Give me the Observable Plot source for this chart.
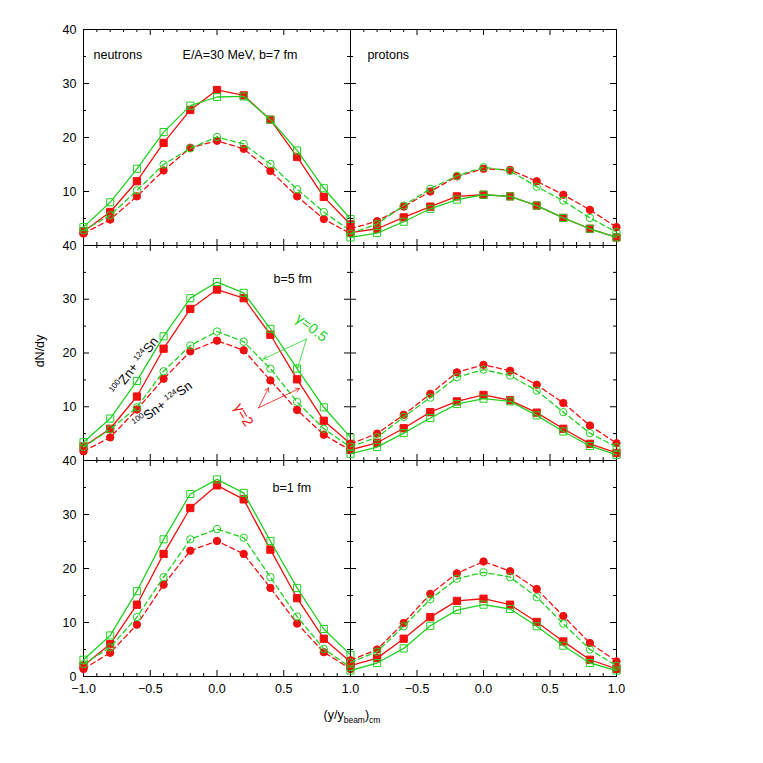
<!DOCTYPE html>
<html><head><meta charset="utf-8">
<script src="https://cdn.jsdelivr.net/npm/d3@7"></script>
<script src="https://cdn.jsdelivr.net/npm/@observablehq/plot@0.6"></script>
<style>
body{margin:0;background:#fff;font-family:"Liberation Sans",Arial,sans-serif;}
#fig{position:relative;width:763px;height:763px;background:#fff;}
.panel{position:absolute;}
.panel svg{overflow:visible;background:transparent;}
.lab{position:absolute;font-size:12.5px;color:#000;white-space:nowrap;}
.lab sub{font-size:8.5px;}
</style></head><body><div id="fig"></div>
<script>
// rapidity bins (y/y_beam)_cm
const xPos = [-1.0,-0.8,-0.6,-0.4,-0.2,0.0,0.2,0.4,0.6,0.8,1.0];
// tick values
const yMajor = [10,20,30];
const yMinor = [5,15,25,35];
const xMajor = [-0.5,0,0.5];
const xMinor = [-0.9,-0.8,-0.7,-0.6,-0.4,-0.3,-0.2,-0.1,0.1,0.2,0.3,0.4,0.6,0.7,0.8,0.9];
const yLabelsTop = [10,20,30,40];
const yLabelsBottom = [0,10,20,30,40];
const xLabelsLeft = [-1,-0.5,0,0.5,1];
const xLabelsRight = [-0.5,0,0.5,1];

// neutrons, b=7 fm
const n7_Zn_g05 = [3.4,8.0,14.2,21.0,25.9,27.5,27.6,23.3,17.6,10.6,4.9];
const n7_Zn_g2  = [2.6,6.2,11.9,19.0,25.1,28.8,27.8,23.3,16.4,9.0,3.9];
const n7_Sn_g05 = [2.8,5.6,10.2,15.0,18.0,20.1,18.8,15.1,10.4,6.2,2.7];
const n7_Sn_g2  = [2.2,4.8,9.1,13.9,18.1,19.4,17.9,13.8,9.1,4.9,2.2];
// protons, b=7 fm
const p7_Zn_g05 = [1.5,2.3,4.4,6.8,8.5,9.4,9.1,7.4,5.1,3.1,1.5];
const p7_Zn_g2  = [2.4,3.1,5.2,7.2,9.1,9.4,9.1,7.4,5.1,3.1,1.5];
const p7_Sn_g05 = [2.2,4.0,7.4,10.5,12.9,14.5,13.8,10.9,8.3,5.1,2.5];
const p7_Sn_g2  = [3.1,4.5,7.2,10.0,12.8,14.2,14.0,11.9,9.4,6.6,3.4];
// neutrons, b=5 fm
const n5_Zn_g05 = [3.4,7.8,14.8,23.1,30.2,33.2,31.2,24.5,17.1,9.9,4.3];
const n5_Zn_g2  = [2.6,5.9,11.9,20.8,28.2,31.8,30.2,23.4,15.1,7.4,3.1];
const n5_Sn_g05 = [2.5,5.8,9.9,16.6,21.4,24.0,22.1,17.1,10.9,5.9,2.5];
const n5_Sn_g2  = [1.7,4.3,9.5,15.2,20.3,22.3,20.5,14.9,9.4,4.8,1.9];
// protons, b=5 fm
const p5_Zn_g05 = [1.25,2.5,5.1,7.9,10.5,11.5,11.0,8.4,5.4,2.7,1.05];
const p5_Zn_g2  = [2.0,3.3,6.0,9.0,11.0,12.2,11.2,8.9,5.9,3.1,1.4];
const p5_Sn_g05 = [2.6,4.3,8.1,11.7,15.5,16.9,15.8,13.0,9.0,5.1,2.5];
const p5_Sn_g2  = [3.1,5.0,8.5,12.4,16.4,17.8,16.7,14.1,10.7,6.5,3.2];
// neutrons, b=1 fm
const n1_Zn_g05 = [3.1,7.6,15.8,25.4,33.8,36.5,34.0,25.1,16.4,8.8,4.0];
const n1_Zn_g2  = [2.0,6.0,13.3,22.7,31.2,35.4,32.8,23.5,14.5,7.0,2.7];
const n1_Sn_g05 = [2.3,5.4,11.0,18.4,25.4,27.3,25.7,18.4,11.1,5.1,1.7];
const n1_Sn_g2  = [1.4,4.4,9.6,17.0,23.3,25.1,22.7,16.4,9.8,4.5,1.4];
// protons, b=1 fm
const p1_Zn_g05 = [1.1,2.5,5.2,9.4,12.3,13.3,12.5,9.3,5.7,2.5,1.1];
const p1_Zn_g2  = [2.0,3.4,7.0,11.0,14.0,14.4,13.3,10.1,6.5,3.1,1.4];
const p1_Sn_g05 = [2.6,4.6,9.3,14.3,18.1,19.3,18.4,14.7,9.8,5.0,2.0];
const p1_Sn_g2  = [3.0,5.0,9.9,15.3,19.1,21.3,19.5,16.2,11.2,6.2,2.8];

// annotation texts (data coordinates of their panel)
const notesTL = [{x:-0.925,y:35.3,t:"neutrons"},{x:-0.258,y:35.3,t:"E/A=30 MeV, b=7 fm"}];
const notesTR = [{x:-0.873,y:35.3,t:"protons"}];
const notesML = [{x:0.423,y:33.8,t:"b=5 fm"}];
const notesBL = [{x:0.416,y:34.9,t:"b=1 fm"}];
const sysLabels = [
  {x:-0.618,y:17.6,t:"^100Zn+ ^124Sn",rot:-52},
  {x:-0.408,y:10.4,t:"^100Sn+ ^124Sn",rot:-36}
];
const gammaLabels = [
  {x:0.708,y:24.7,t:"γ=0.5",rot:38,c:"green"},
  {x:0.199,y:8.5,t:"γ=2",rot:60,c:"red"}
];
const arrowsGreen = [{x1:0.67,y1:22.6,x2:0.348,y2:18.9},{x1:0.67,y1:22.6,x2:0.603,y2:17.1}];
const arrowsRed = [{x1:0.311,y1:9.8,x2:0.386,y2:13.5},{x1:0.311,y1:9.8,x2:0.618,y2:13.4}];

const RED = "#f01010", GREEN = "#22d022";
const FONT = "'Liberation Sans', Arial, sans-serif";

const panels = [
  {col:0,row:0,s:[n7_Zn_g2,n7_Sn_g2,n7_Zn_g05,n7_Sn_g05],notes:notesTL},
  {col:1,row:0,s:[p7_Zn_g2,p7_Sn_g2,p7_Zn_g05,p7_Sn_g05],notes:notesTR},
  {col:0,row:1,s:[n5_Zn_g2,n5_Sn_g2,n5_Zn_g05,n5_Sn_g05],notes:notesML,extra:true},
  {col:1,row:1,s:[p5_Zn_g2,p5_Sn_g2,p5_Zn_g05,p5_Sn_g05],notes:[]},
  {col:0,row:2,s:[n1_Zn_g2,n1_Sn_g2,n1_Zn_g05,n1_Sn_g05],notes:notesBL},
  {col:1,row:2,s:[p1_Zn_g2,p1_Sn_g2,p1_Zn_g05,p1_Sn_g05],notes:[]}
];
const styles = [
  {stroke:RED, dash:null, symbol:"square", fill:RED, r:4.1},
  {stroke:RED, dash:"5,3.5", symbol:"circle", fill:RED, r:3.7},
  {stroke:GREEN, dash:null, symbol:"square", fill:"none", r:4.0},
  {stroke:GREEN, dash:"5,3.5", symbol:"circle", fill:"none", r:3.7}
];
const colLeft = [83, 350], colW = [267, 266];
const rowTop = [29, 245, 460], rowH = [216, 215, 216];

const fig = document.getElementById("fig");

function superscriptify(svg){
  d3.select(svg).selectAll("text").each(function(){
    const t = this.textContent;
    if (!t.includes("^")) return;
    const sel = d3.select(this);
    sel.text(null);
    const parts = t.split(/\^(\d+)/);
    let up = false;
    parts.forEach((p,i)=>{
      if (!p) return;
      if (i % 2 === 1) {
        sel.append("tspan").attr("font-size", 8).attr("dy", up ? 0 : -5).text(p);
        up = true;
      } else {
        sel.append("tspan").attr("dy", up ? 5 : 0).text(p);
        up = false;
      }
    });
  });
}

panels.forEach(p => {
  const W = colW[p.col], H = rowH[p.row];
  const marks = [];
  // tick marks on all four sides, pointing inward
  marks.push(Plot.tickY(yMajor, {y: d=>d, insetRight: W-6, stroke:"#000"}));
  marks.push(Plot.tickY(yMajor, {y: d=>d, insetLeft: W-6, stroke:"#000"}));
  marks.push(Plot.tickY(yMinor, {y: d=>d, insetRight: W-3, stroke:"#000"}));
  marks.push(Plot.tickY(yMinor, {y: d=>d, insetLeft: W-3, stroke:"#000"}));
  marks.push(Plot.tickX(xMajor, {x: d=>d, insetTop: H-6, stroke:"#000"}));
  marks.push(Plot.tickX(xMajor, {x: d=>d, insetBottom: H-6, stroke:"#000"}));
  marks.push(Plot.tickX(xMinor, {x: d=>d, insetTop: H-3, stroke:"#000"}));
  marks.push(Plot.tickX(xMinor, {x: d=>d, insetBottom: H-3, stroke:"#000"}));
  marks.push(Plot.frame({stroke:"#000", strokeWidth:1}));
  if (p.col === 0) {
    marks.push(Plot.axisY({ticks: p.row === 2 ? yLabelsBottom : yLabelsTop, tickSize: 0, tickPadding: 7, label: null, tickFormat: d => String(d), fontSize: 12.5}));
  }
  if (p.row === 2) {
    marks.push(Plot.axisX({ticks: p.col === 0 ? xLabelsLeft : xLabelsRight, tickSize: 0, tickPadding: 8, label: null, tickFormat: d3.format(".1f"), fontSize: 12.5}));
  }
  p.s.forEach((arr, k) => {
    const st = styles[k];
    const data = xPos.map((x,i) => ({x, y: arr[i]}));
    marks.push(Plot.line(data, {x:"x", y:"y", stroke: st.stroke, strokeWidth: 1.3, strokeDasharray: st.dash}));
    marks.push(Plot.dot(data, {x:"x", y:"y", symbol: st.symbol, r: st.r, fill: st.fill, stroke: st.stroke, strokeWidth: 1}));
  });
  marks.push(Plot.text(p.notes, {x:"x", y:"y", text:"t", textAnchor:"start", fontSize: 12.5, fill:"#000"}));
  if (p.extra) {
    marks.push(Plot.text(sysLabels, {x:"x", y:"y", text:"t", rotate: d=>d.rot, fontSize: 13, fill:"#000"}));
    marks.push(Plot.arrow(arrowsGreen, {x1:"x1", y1:"y1", x2:"x2", y2:"y2", stroke: GREEN, strokeWidth: 0.8, headLength: 8}));
    marks.push(Plot.arrow(arrowsRed, {x1:"x1", y1:"y1", x2:"x2", y2:"y2", stroke: RED, strokeWidth: 0.8, headLength: 8}));
    marks.push(Plot.text(gammaLabels, {x:"x", y:"y", text:"t", rotate: d=>d.rot, fontSize: 14.5, fill: d => d.c === "green" ? GREEN : RED}));
  }
  const svg = Plot.plot({
    width: W, height: H,
    marginLeft: 0, marginRight: 0, marginTop: 0, marginBottom: 0,
    x: {domain: [-1, 1], axis: null, label: null},
    y: {domain: [0, 40], axis: null, label: null},
    style: {background: "transparent", overflow: "visible", fontFamily: FONT, fontSize: "12.5px", color: "#000"},
    marks
  });
  superscriptify(svg);
  const div = document.createElement("div");
  div.className = "panel";
  div.style.left = colLeft[p.col] + "px";
  div.style.top = rowTop[p.row] + "px";
  div.style.width = W + "px";
  div.style.height = H + "px";
  div.appendChild(svg);
  fig.appendChild(div);
});

// axis titles
const xl = document.createElement("div");
xl.className = "lab";
xl.innerHTML = "(y/y<sub>beam</sub>)<sub>cm</sub>";
xl.style.left = "352px"; xl.style.top = "708px"; xl.style.transform = "translateX(-50%)";
fig.appendChild(xl);
const yl = document.createElement("div");
yl.className = "lab";
yl.textContent = "dN/dy";
yl.style.left = "40px"; yl.style.top = "351px"; yl.style.transform = "translate(-50%,-50%) rotate(-90deg)";
fig.appendChild(yl);
</script></body></html>
